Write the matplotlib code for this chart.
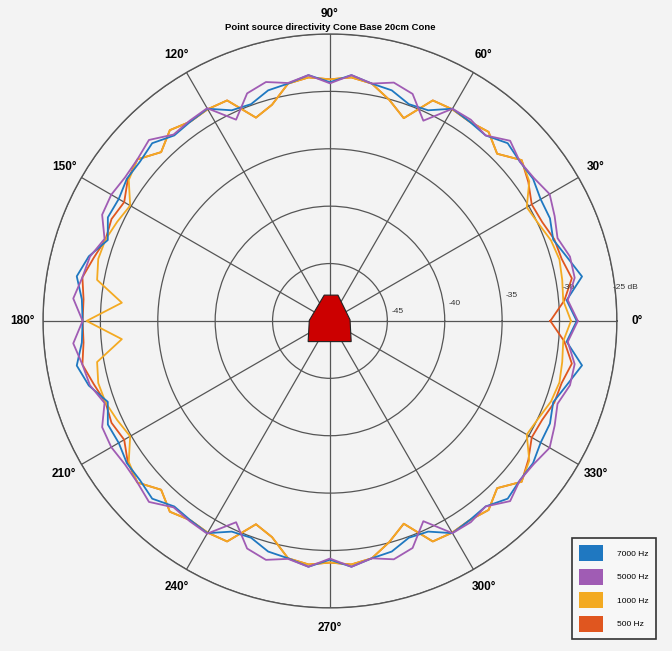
import numpy as np
import matplotlib
matplotlib.use("Agg")
import matplotlib.pyplot as plt
from matplotlib.patches import Patch, Polygon

plt.rcParams['font.family'] = ['Liberation Sans', 'DejaVu Sans']

# directivity data, one value every 5 degrees (0..355), in dB
angles_deg = np.arange(0, 360, 5)

hz7000 = [-28.5, -29.3, -27.7, -28.6, -29.3, -28.85, -28.8, -28.4, -28.4, -28.1,
          -28.9, -28.8, -28.65, -29.75, -29.9, -29.2, -29.0, -28.5, -29.2,
          -28.5, -29.0, -29.2, -29.9, -29.75, -28.65, -28.8, -28.9, -28.1, -28.4,
          -28.4, -28.75, -28.65, -29.4, -28.25, -27.6, -28.3, -28.45,
          -28.3, -27.6, -28.25, -29.4, -28.65, -28.75, -28.4, -28.4, -28.1, -28.9,
          -28.8, -28.65, -29.75, -29.9, -29.2, -29.0, -28.5, -29.2, -28.5, -29.0,
          -29.2, -29.9, -29.75, -28.65, -28.8, -28.9, -28.1, -28.4, -28.4, -28.8,
          -28.85, -29.3, -28.6, -27.7, -29.3]

hz5000 = [-28.4, -29.2, -28.35, -28.35, -28.9, -28.4, -27.9, -28.3, -28.4, -27.8,
          -28.9, -28.6, -28.65, -30.75, -28.95, -28.5, -29.0, -28.5, -29.3,
          -28.5, -28.95, -28.45, -28.9, -30.65, -28.6, -28.7, -28.8, -27.7, -28.1,
          -28.2, -28.0, -28.1, -29.1, -28.35, -28.1, -27.55, -28.45,
          -27.55, -28.1, -28.35, -29.1, -28.1, -28.0, -28.2, -28.1, -27.7, -28.8,
          -28.7, -28.6, -30.65, -28.9, -28.45, -28.95, -28.5, -29.3, -28.5, -29.0,
          -28.5, -28.95, -30.75, -28.65, -28.6, -28.9, -27.8, -28.4, -28.3, -27.9,
          -28.4, -28.9, -28.35, -28.35, -29.2]

hz1000 = [-29.0, -29.6, -29.45, -29.3, -29.5, -29.95, -30.2, -28.8, -28.2, -29.4,
          -28.5, -28.8, -28.7, -28.8, -31.2, -30.05, -29.0, -28.7, -28.95,
          -28.7, -29.0, -30.5, -31.15, -28.8, -28.7, -28.8, -28.3, -29.2, -28.1,
          -28.6, -29.9, -29.55, -29.2, -29.1, -29.4, -31.8, -28.8,
          -31.8, -29.4, -29.1, -29.2, -29.55, -29.9, -28.6, -28.1, -29.2, -28.3,
          -28.8, -28.7, -28.8, -31.15, -30.5, -29.0, -28.7, -28.95, -28.7, -29.0,
          -30.05, -31.2, -28.8, -28.7, -28.8, -28.5, -29.4, -28.2, -28.8, -30.2,
          -29.95, -29.5, -29.3, -29.45, -29.6]

hz500 = [-30.8, -29.5, -28.6, -29.1, -29.2, -29.6, -29.7, -28.9, -28.2, -29.4,
         -28.5, -28.8, -28.7, -28.8, -31.2, -30.05, -29.0, -28.7, -28.95,
         -28.7, -29.0, -30.5, -31.15, -28.8, -28.7, -28.8, -28.3, -29.2, -28.1,
         -28.5, -29.3, -29.0, -29.2, -28.7, -28.1, -28.45, -28.45,
         -28.45, -28.1, -28.7, -29.2, -29.0, -29.3, -28.5, -28.1, -29.2, -28.3,
         -28.8, -28.7, -28.8, -31.15, -30.5, -29.0, -28.7, -28.95, -28.7, -29.0,
         -30.05, -31.2, -28.8, -28.7, -28.8, -28.5, -29.4, -28.2, -28.9, -29.7,
         -29.6, -29.2, -29.1, -28.6, -29.5]

labels = ['7000 Hz', '5000 Hz', '1000 Hz', '500 Hz']
colors = ['#1f78c1', '#a05cb4', '#f3aa22', '#e0561f']
r_ticks = [-45, -40, -35, -30]

bg = '#f3f3f3'
fig = plt.figure(figsize=(6.72, 6.51), dpi=100, facecolor=bg)
ax = fig.add_axes([0.064, 0.066, 0.854, 0.882], projection='polar', facecolor=bg)

theta = np.deg2rad(np.append(angles_deg, 360))
series = [hz7000, hz5000, hz1000, hz500]
# draw 500 Hz first so it sits under the others
for i in [3, 2, 0, 1]:
    vals = np.append(series[i], series[i][0])
    ax.plot(theta, vals, color=colors[i], lw=1.3, zorder=3 + (i == 1))

ax.set_ylim(-50, -25)
ax.set_rgrids([-45, -40, -35, -30, -25], labels=[''] * 5)
ax.set_thetagrids(np.arange(0, 360, 30),
                  labels=['%d°' % a for a in range(0, 360, 30)],
                  fontsize=8.5, fontweight='bold')
ax.tick_params(axis='x', pad=4)
ax.grid(True, color='#555555', lw=0.9)
ax.spines['polar'].set_color('#555555')
ax.spines['polar'].set_linewidth(1.0)

for v in r_ticks:
    ax.text(np.deg2rad(8), v + 1.0, str(v), fontsize=6, color='#333333',
            ha='center', va='center')
ax.text(np.deg2rad(6.4), -24.1, '-25 dB', fontsize=6, color='#333333',
        ha='center', va='center')

# speaker icon in the middle
icon = Polygon([(0.490, 0.545), (0.514, 0.545), (0.535, 0.502), (0.537, 0.464),
                (0.462, 0.464), (0.464, 0.501)], closed=True,
               transform=ax.transAxes, facecolor='#cc0000', edgecolor='#222222',
               lw=0.8, zorder=6)
ax.add_patch(icon)

fig.text(0.491, 1 - 27 / 651, 'Point source directivity Cone Base 20cm Cone',
         ha='center', va='center', fontsize=6.8, fontweight='bold',
         family=['Liberation Sans Narrow', 'Liberation Sans'])

handles = [Patch(facecolor=c, edgecolor='none') for c in colors]
leg = fig.legend(handles, labels, loc='lower right', bbox_to_anchor=(0.982, 0.012),
                 fontsize=6, handlelength=2.9, handleheight=2.5, labelspacing=0.95,
                 handletextpad=1.6, borderpad=0.9, fancybox=False, framealpha=1)
leg.get_frame().set_edgecolor('#333333')
leg.get_frame().set_facecolor('#f7f7f7')
leg.get_frame().set_linewidth(1.2)

fig.savefig('out.png', dpi=100, facecolor=bg)
